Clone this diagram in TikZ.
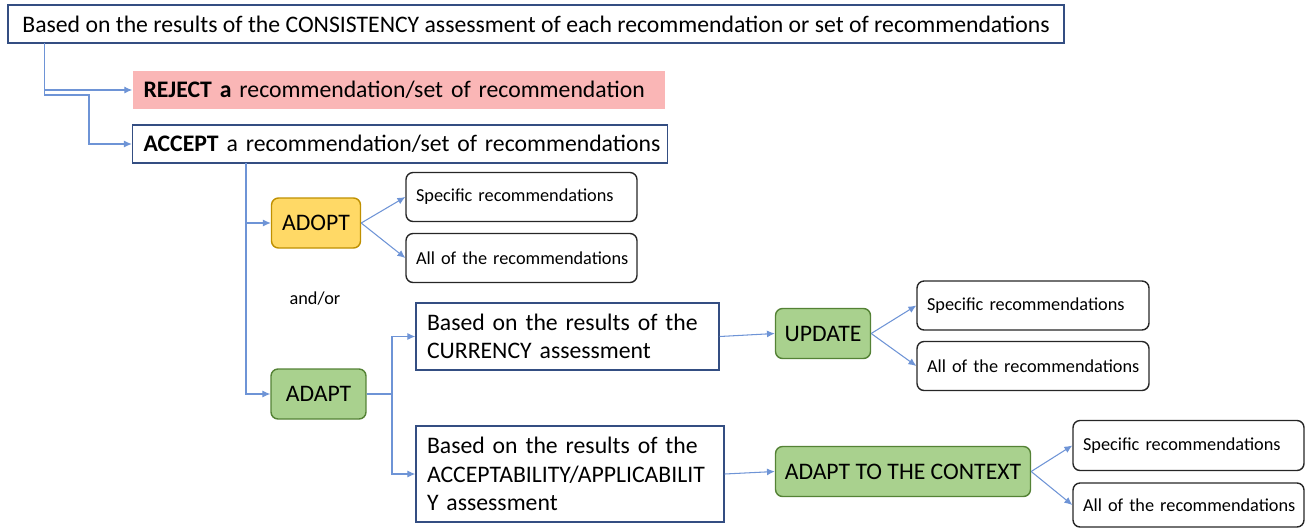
\documentclass[tikz,border=0pt]{standalone}
\usepackage{fontspec}
\setmainfont{Carlito}
\usetikzlibrary{arrows,arrows.meta,positioning}
\definecolor{boxblue}{RGB}{52,78,130}
\definecolor{linkblue}{RGB}{110,148,214}
\definecolor{rejpink}{RGB}{250,182,182}
\definecolor{adoptyel}{RGB}{255,217,102}
\definecolor{adoptedge}{RGB}{191,144,0}
\definecolor{adaptgrn}{RGB}{169,209,142}
\definecolor{adaptedge}{RGB}{84,130,53}
\hyphenpenalty=10000
\exhyphenpenalty=10000

\begin{document}
\begin{tikzpicture}[x=0.02cm,y=-0.02cm]
          \useasboundingbox (0,0) rectangle (1309,528);
          \tikzstyle{every node} = [font=\fontsize{13.5}{16.3}\selectfont, inner sep=0pt]
          \tikzstyle{plain} = [draw=boxblue, line width=0.85pt, fill=white]
          \tikzstyle{leftbox} = [plain, inner xsep=0.22cm, align=left]
          \tikzstyle{choice} = [draw, rounded corners=0.14cm, line width=0.8pt, minimum height=1cm]
          \tikzstyle{option} = [draw=black!85, rounded corners=0.14cm, line width=0.8pt, font=\fontsize{10.4}{12.5}\selectfont, inner xsep=0.2cm, text width=4.22cm, align=left]
          \tikzstyle{arr} = [color=linkblue, line width=0.6pt, -{Latex[length=4.5pt,width=4pt]}]
          \node[plain, minimum width=21.12cm, minimum height=0.76cm](1) at (536,24) {Based on the results of the CONSISTENCY assessment of each recommendation or set of recommendations};
          \node[fill=rejpink, inner xsep=0.22cm, text width=10.22cm, minimum height=0.76cm, align=left](2) at (399,90) {\mbox{\textbf{REJECT a} recommendation/set of recommendation}};
          \node[leftbox, text width=10.26cm, minimum height=0.76cm](3) at (400,144) {\mbox{\textbf{ACCEPT} a recommendation/set of recommendations}};
          \node[choice, fill=adoptyel, draw=adoptedge, minimum width=1.78cm](4) at (316,223) {ADOPT};
          \node[choice, fill=adaptgrn, draw=adaptedge, minimum width=1.9cm](5) at (318.5,394) {ADAPT};
          \node[option, minimum height=0.98cm](6) at (521.5,197) {\mbox{Specific recommendations}};
          \node[option, minimum height=0.98cm](7) at (521.5,258) {\mbox{All of the recommendations}};
          \node[font=\fontsize{10.4}{12.5}\selectfont](8) at (315,299) {and/or};
          \node[leftbox, text width=5.62cm, minimum height=1.34cm](9) at (567.5,336.5) {Based on the results of the\\CURRENCY assessment};
          \node[leftbox, text width=5.72cm, minimum height=1.92cm](10) at (570,474) {Based on the results of the\\ACCEPTABILITY/APPLICABILIT\\Y assessment};
          \node[choice, fill=adaptgrn, draw=adaptedge, minimum width=1.9cm](11) at (823,333.5) {UPDATE};
          \node[option, text width=4.24cm, minimum height=0.98cm](12) at (1033,305.5) {\mbox{Specific recommendations}};
          \node[option, text width=4.24cm, minimum height=0.98cm](13) at (1033,366) {\mbox{All of the recommendations}};
          \node[choice, fill=adaptgrn, draw=adaptedge, minimum width=5.1cm](14) at (903,471.5) {ADAPT TO THE CONTEXT};
          \node[option, minimum height=1cm](15) at (1188.5,445.5) {\mbox{Specific recommendations}};
          \node[option, minimum height=0.88cm](16) at (1188.5,505) {\mbox{All of the recommendations}};
          \coordinate (c1) at (44.6,43);
          \coordinate (c2) at (44.6,95);
          \coordinate (c3) at (89,95);
          \coordinate (c4) at (246,163);
          \coordinate (c5) at (392,394);
          \draw[arr] (c1) |- (2.west);
          \draw[arr] (c1) -- (c2) -- (c3) |- (3.west);
          \draw[arr] (c4) |- (4.west);
          \draw[arr] (c4) |- (5.west);
          \path[arr]
          (4.east) edge (6.west)
          (4.east) edge (7.west);
          \draw[arr, -] (5.east) -- (c5);
          \draw[arr] (c5) |- (9.west);
          \draw[arr] (c5) |- (10.west);
          \path[arr]
          (9.east) edge (11.west)
          (10.east) edge (14.west);
          \path[arr]
          (11.east) edge (12.west)
          (11.east) edge (13.west);
          \path[arr]
          (14.east) edge (15.west)
          (14.east) edge (16.west);
\end{tikzpicture}
\end{document}
